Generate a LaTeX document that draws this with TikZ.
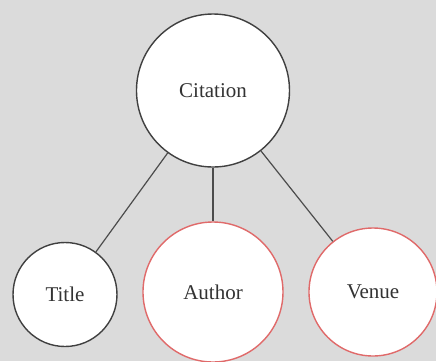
\documentclass[tikz,border=0pt]{standalone}
\usepackage{fontspec}
\setmainfont{Liberation Serif}
\definecolor{softred}{HTML}{E06A6A}
\begin{document}
\begin{tikzpicture}[x=0.5pt,y=-0.5pt,
  bubble/.style={circle,draw=black!75,line width=0.7pt,fill=white,inner sep=0pt,
    text=black!80,font=\fontsize{10.5}{12}\selectfont},
  redbubble/.style={bubble,draw=softred},
  link/.style={draw=black!70,line width=0.6pt}]
  \fill[black!14] (0,0) rectangle (436,361);
  \useasboundingbox (0,0) rectangle (436,361);
  \node[bubble,minimum size=76.5pt] (cit) at (213,90.5) {Citation};
  \node[bubble,minimum size=52pt] (title) at (65,294.5) {Title};
  \node[redbubble,minimum size=70pt] (author) at (213,292) {Author};
  \node[redbubble,minimum size=64pt] (venue) at (373,292) {Venue};
  \draw[link] (cit) -- (title);
  \draw[link] (cit) -- (author);
  \draw[link] (cit) -- (venue);
\end{tikzpicture}
\end{document}
